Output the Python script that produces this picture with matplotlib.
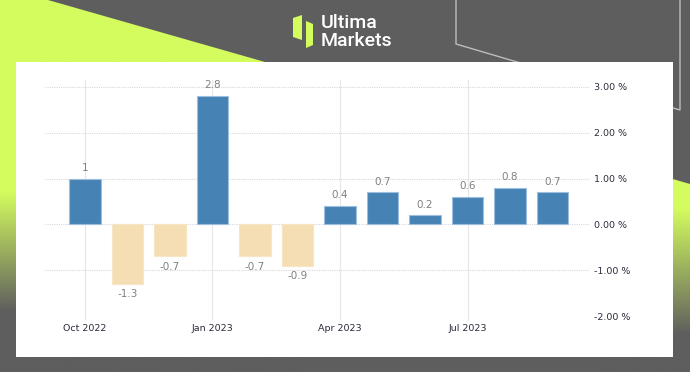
import numpy as np
import matplotlib
matplotlib.use("Agg")
import matplotlib.pyplot as plt
from matplotlib.patches import Polygon, Rectangle
from matplotlib.colors import to_rgb

# ---------------- data ----------------
months = ["Oct 2022", "Nov 2022", "Dec 2022", "Jan 2023", "Feb 2023", "Mar 2023",
          "Apr 2023", "May 2023", "Jun 2023", "Jul 2023", "Aug 2023", "Sep 2023"]
values = [1.0, -1.3, -0.7, 2.8, -0.7, -0.9, 0.4, 0.7, 0.2, 0.6, 0.8, 0.7]
value_labels = ["1", "-1.3", "-0.7", "2.8", "-0.7", "-0.9", "0.4", "0.7", "0.2", "0.6", "0.8", "0.7"]
xtick_labels = ["Oct 2022", "Jan 2023", "Apr 2023", "Jul 2023"]
ytick_values = [3, 2, 1, 0, -1, -2]
ytick_labels = ["3.00 %", "2.00 %", "1.00 %", "0.00 %", "-1.00 %", "-2.00 %"]

W, H = 690, 372
BG = "#5e5e5e"
LIME = "#d4fc5e"
POS = "#4682b4"
NEG = "#f5deb3"

fig = plt.figure(figsize=(W / 100, H / 100), dpi=100, facecolor=BG)

# ---------------- decorative background ----------------
bg = fig.add_axes([0, 0, 1, 1])
bg.set_xlim(0, W)
bg.set_ylim(H, 0)
bg.axis("off")
bg.set_facecolor(BG)


def gradient_poly(ax, pts, y_solid, y_end):
    poly = Polygon(pts, closed=True, facecolor="none", edgecolor="none")
    ax.add_patch(poly)
    ys = np.linspace(0, H, 400)
    t = np.clip((ys - y_solid) / (y_end - y_solid), 0, 1)[:, None]
    c1 = np.array(to_rgb(LIME))
    c2 = np.array(to_rgb(BG))
    col = (1 - t) * c1 + t * c2
    img = np.repeat(col[:, None, :], 2, axis=1)
    im = ax.imshow(img, extent=[0, W, H, 0], aspect="auto", zorder=1,
                   interpolation="bilinear")
    im.set_clip_path(poly)


gradient_poly(bg, [(0, 0), (48, 0), (300, 72), (300, H), (0, H)], 192, 312)
gradient_poly(bg, [(600, 158), (690, 184), (690, H), (600, H)], 208, 335)

# outline shape top right
bg.plot([456, 456, 680, 680], [0, 44, 110, 0], color="#bdbdbd", lw=1.0, zorder=2)

# white panel
bg.add_patch(Rectangle((16, 62), 657, 295, facecolor="white", edgecolor="none", zorder=3))

# logo
bg.add_patch(Polygon([(293, 18), (302, 15), (302, 40), (293, 37)], closed=True,
                     facecolor=LIME, edgecolor="none", zorder=4))
bg.add_patch(Polygon([(306, 21), (313, 24), (313, 45), (306, 48)], closed=True,
                     facecolor=LIME, edgecolor="none", zorder=4))
bg.text(321, 23, "Ultima", color="white", fontsize=14, family="Roboto",
        fontweight="medium", va="center", ha="left", zorder=4)
bg.text(321, 41, "Markets", color="white", fontsize=14, family="Roboto",
        fontweight="medium", va="center", ha="left", zorder=4)

# ---------------- chart ----------------
x0_px, x1_px = 45, 590
ytop_px, ybot_px = 80, 316
ax = fig.add_axes([x0_px / W, 1 - ybot_px / H, (x1_px - x0_px) / W, (ybot_px - ytop_px) / H])
ax.set_facecolor("none")
ax.set_zorder(5)

x = np.arange(len(months))
colors = [POS if v >= 0 else NEG for v in values]
edges = ["#9cbfe0" if v >= 0 else "#f7e6c6" for v in values]
ax.bar(x, values, width=0.74, color=colors, edgecolor=edges, linewidth=0.8, zorder=3)

for xi, v, lab in zip(x, values, value_labels):
    if v >= 0:
        ax.annotate(lab, (xi, v), xytext=(0, 4), textcoords="offset points",
                    ha="center", va="bottom", fontsize=7.5, color="#808080")
    else:
        ax.annotate(lab, (xi, v), xytext=(0, -4), textcoords="offset points",
                    ha="center", va="top", fontsize=7.5, color="#808080")

ax.set_xlim(-0.94, 11.88)
ax.set_ylim(-2.0, 3.15)

ax.set_yticks(ytick_values)
ax.set_yticklabels(ytick_labels)
ax.yaxis.tick_right()
ax.tick_params(axis="y", length=0, pad=3, labelsize=6.8, labelcolor="#2b2b3b")

xt = [months.index(m) for m in xtick_labels]
ax.set_xticks(xt)
ax.set_xticklabels(xtick_labels)
ax.tick_params(axis="x", length=3, color="#e2e2e2", pad=3, labelsize=6.8, labelcolor="#2b2b3b")

ax.grid(axis="y", color="#d8d8d8", linestyle=(0, (1, 1)), linewidth=0.8, zorder=0)
ax.grid(axis="x", color="#e6e6e6", linestyle="-", linewidth=0.8, zorder=0)
for s in ax.spines.values():
    s.set_visible(False)

fig.savefig("out.png", dpi=100, facecolor=BG)
